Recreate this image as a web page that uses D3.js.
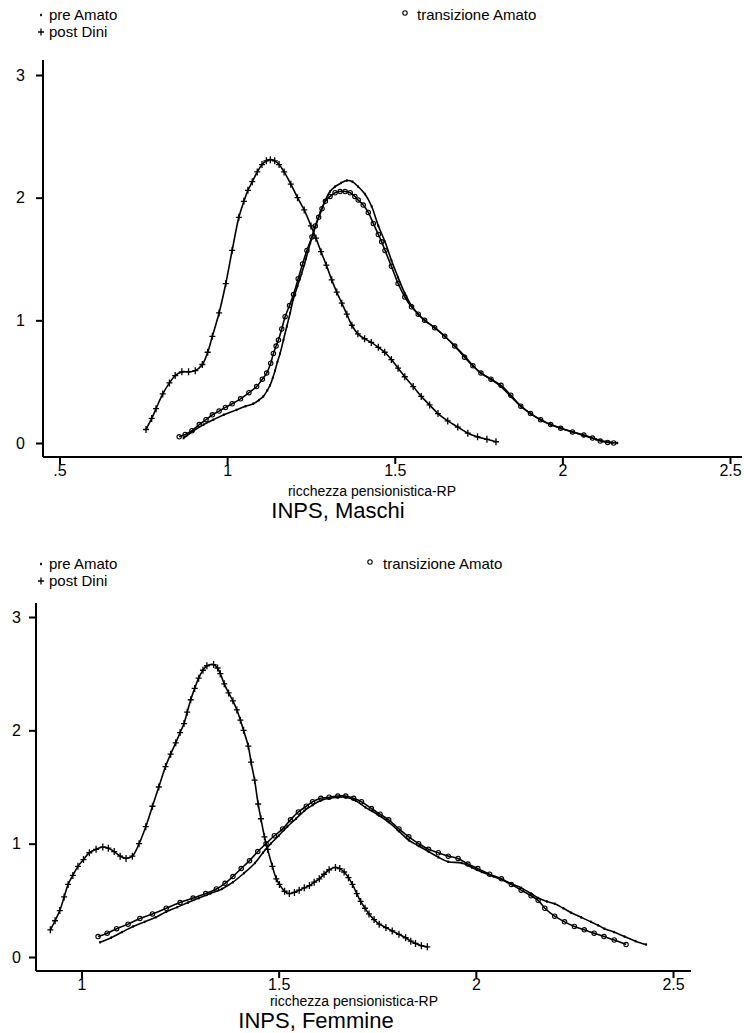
<!DOCTYPE html>
<html><head><meta charset="utf-8">
<script src="https://cdn.jsdelivr.net/npm/d3@7"></script>
<style>body{margin:0;background:#fff}svg{display:block}text{font-family:"Liberation Sans",Arial,sans-serif;fill:#000}</style>
</head><body><svg id="c" width="744" height="1033"></svg>
<script>
// ---------- DATA ----------
const seriesNames = ["pre Amato", "transizione Amato", "post Dini"];
const xTicksM = [0.5, 1, 1.5, 2, 2.5];
const xTickLabelsM = [".5", "1", "1.5", "2", "2.5"];
const xTicksF = [1, 1.5, 2, 2.5];
const xTickLabelsF = ["1", "1.5", "2", "2.5"];
const yTicks = [0, 1, 2, 3];
const xTitle = "ricchezza pensionistica-RP";
const titleM = "INPS, Maschi";
const titleF = "INPS, Femmine";

// Maschi
const preAmatoM_x = [0.870,0.900,0.930,0.959,0.990,1.028,1.055,1.078,1.095,1.108,1.120,1.128,1.136,1.143,1.150,1.158,1.168,1.178,1.188,1.197,1.210,1.222,1.235,1.248,1.263,1.278,1.293,1.307,1.322,1.340,1.357,1.374,1.391,1.411,1.431,1.451,1.471,1.490,1.510,1.530,1.550,1.570,1.589,1.619,1.649,1.679,1.708,1.733,1.757,1.787,1.817,1.846,1.876,1.905,1.935,1.965,1.995,2.030,2.064,2.100,2.130,2.164];
const preAmatoM_y = [0.04,0.10,0.15,0.19,0.23,0.27,0.30,0.32,0.35,0.38,0.43,0.47,0.53,0.59,0.66,0.73,0.84,0.95,1.06,1.17,1.28,1.38,1.50,1.63,1.76,1.88,1.98,2.05,2.09,2.12,2.14,2.13,2.09,2.03,1.93,1.77,1.64,1.49,1.35,1.22,1.12,1.05,1.00,0.94,0.87,0.79,0.71,0.63,0.57,0.52,0.46,0.38,0.30,0.24,0.19,0.15,0.12,0.09,0.06,0.03,0.01,0.0];
const transM_x = [0.857,0.875,0.895,0.917,0.937,0.956,0.976,0.995,1.015,1.040,1.065,1.088,1.105,1.118,1.130,1.138,1.146,1.153,1.163,1.173,1.186,1.198,1.212,1.225,1.238,1.253,1.263,1.273,1.283,1.293,1.307,1.322,1.337,1.352,1.367,1.381,1.391,1.406,1.421,1.436,1.451,1.461,1.471,1.490,1.510,1.530,1.550,1.570,1.589,1.619,1.649,1.679,1.708,1.733,1.757,1.787,1.817,1.846,1.876,1.905,1.935,1.965,1.995,2.030,2.064,2.090,2.113,2.135,2.153];
const transM_y = [0.05,0.07,0.10,0.15,0.19,0.23,0.26,0.29,0.32,0.36,0.41,0.46,0.52,0.57,0.65,0.73,0.79,0.84,0.93,1.03,1.12,1.21,1.34,1.46,1.57,1.68,1.77,1.84,1.91,1.97,2.01,2.04,2.05,2.05,2.04,2.01,1.98,1.94,1.88,1.79,1.70,1.64,1.57,1.44,1.30,1.19,1.11,1.05,1.00,0.94,0.87,0.79,0.70,0.63,0.57,0.52,0.47,0.39,0.30,0.24,0.19,0.15,0.12,0.09,0.065,0.04,0.016,0.005,0.0];
const postDiniM_x = [0.758,0.775,0.788,0.808,0.828,0.845,0.865,0.885,0.905,0.926,0.942,0.956,0.976,0.996,1.015,1.035,1.050,1.062,1.075,1.090,1.104,1.117,1.129,1.142,1.155,1.170,1.190,1.210,1.230,1.250,1.265,1.280,1.296,1.312,1.327,1.342,1.357,1.372,1.390,1.410,1.430,1.451,1.470,1.490,1.510,1.530,1.555,1.579,1.604,1.629,1.658,1.688,1.718,1.747,1.775,1.802];
const postDiniM_y = [0.11,0.20,0.28,0.40,0.49,0.55,0.58,0.58,0.59,0.64,0.74,0.87,1.06,1.30,1.57,1.84,1.97,2.06,2.13,2.21,2.27,2.30,2.31,2.30,2.27,2.21,2.11,2.00,1.90,1.77,1.67,1.56,1.45,1.33,1.23,1.14,1.05,0.96,0.89,0.85,0.82,0.78,0.74,0.68,0.61,0.54,0.46,0.38,0.31,0.24,0.18,0.13,0.08,0.05,0.03,0.01];

// Femmine
const preAmatoF_x = [1.047,1.075,1.103,1.131,1.160,1.188,1.215,1.243,1.270,1.298,1.327,1.356,1.384,1.412,1.440,1.460,1.480,1.500,1.522,1.544,1.565,1.586,1.607,1.628,1.650,1.670,1.695,1.720,1.750,1.779,1.805,1.830,1.855,1.880,1.905,1.930,1.964,1.990,2.015,2.045,2.080,2.115,2.140,2.158,2.180,2.200,2.222,2.242,2.267,2.292,2.310,2.326,2.350,2.377,2.405,2.432];
const preAmatoF_y = [0.13,0.17,0.22,0.27,0.31,0.35,0.40,0.44,0.48,0.52,0.56,0.60,0.66,0.74,0.83,0.92,1.00,1.07,1.15,1.22,1.29,1.34,1.38,1.40,1.41,1.41,1.38,1.32,1.26,1.19,1.11,1.03,0.98,0.93,0.88,0.84,0.83,0.79,0.75,0.71,0.66,0.61,0.56,0.52,0.49,0.47,0.43,0.39,0.35,0.31,0.28,0.25,0.22,0.18,0.14,0.11];
const transF_x = [1.042,1.065,1.089,1.118,1.148,1.180,1.215,1.250,1.283,1.315,1.342,1.364,1.384,1.405,1.426,1.447,1.468,1.489,1.510,1.530,1.550,1.570,1.586,1.607,1.628,1.650,1.670,1.690,1.710,1.735,1.757,1.779,1.805,1.830,1.855,1.880,1.905,1.930,1.955,1.980,2.005,2.035,2.065,2.090,2.115,2.140,2.158,2.175,2.200,2.225,2.250,2.275,2.300,2.325,2.351,2.381];
const transF_y = [0.18,0.21,0.25,0.29,0.34,0.38,0.43,0.48,0.52,0.56,0.60,0.65,0.71,0.78,0.85,0.93,1.00,1.07,1.13,1.21,1.28,1.33,1.37,1.40,1.41,1.42,1.42,1.40,1.37,1.31,1.26,1.21,1.13,1.06,1.00,0.95,0.92,0.89,0.87,0.82,0.78,0.73,0.69,0.64,0.59,0.54,0.50,0.43,0.36,0.31,0.27,0.24,0.21,0.18,0.15,0.11];
const postDiniF_x = [0.921,0.933,0.945,0.956,0.966,0.978,0.991,1.005,1.020,1.037,1.054,1.068,1.083,1.098,1.113,1.129,1.146,1.163,1.180,1.196,1.213,1.226,1.239,1.250,1.260,1.268,1.277,1.287,1.297,1.308,1.318,1.335,1.345,1.352,1.362,1.373,1.384,1.394,1.403,1.411,1.423,1.430,1.439,1.448,1.455,1.464,1.472,1.484,1.494,1.502,1.515,1.527,1.540,1.552,1.565,1.578,1.590,1.603,1.615,1.628,1.644,1.655,1.666,1.677,1.687,1.698,1.708,1.719,1.729,1.742,1.755,1.772,1.788,1.805,1.822,1.835,1.847,1.862,1.877];
const postDiniF_y = [0.24,0.32,0.41,0.53,0.64,0.72,0.80,0.86,0.92,0.95,0.97,0.96,0.93,0.89,0.87,0.89,1.00,1.15,1.33,1.50,1.68,1.79,1.89,1.98,2.06,2.16,2.27,2.37,2.46,2.53,2.57,2.58,2.55,2.50,2.41,2.33,2.26,2.18,2.09,2.00,1.86,1.72,1.56,1.35,1.22,1.06,0.95,0.80,0.69,0.64,0.58,0.56,0.57,0.59,0.61,0.63,0.66,0.69,0.73,0.77,0.79,0.78,0.75,0.70,0.64,0.56,0.49,0.43,0.38,0.33,0.29,0.26,0.23,0.20,0.17,0.14,0.12,0.10,0.09];

// ---------- DRAW ----------
const svg = d3.select("#c");
const zip = (xs, ys) => xs.map((x, i) => ({x, y: ys[i]}));

function marker(g, kind, x, y) {
  if (kind === "dot") {
    g.append("rect").attr("x", x - 0.9).attr("y", y - 1.2).attr("width", 1.8).attr("height", 2.4).attr("fill", "#000");
  } else if (kind === "circle") {
    g.append("circle").attr("cx", x).attr("cy", y).attr("r", 2.2).attr("fill", "none").attr("stroke", "#000").attr("stroke-width", 1.1);
  } else {
    g.append("path").attr("d", `M${x-3},${y}H${x+3}M${x},${y-3.5}V${y+3.5}`).attr("stroke", "#000").attr("stroke-width", 1.3).attr("fill", "none");
  }
}

function panel(cfg) {
  const g = svg.append("g");
  const x = d3.scaleLinear().domain(cfg.xDom).range(cfg.xRange);
  const y = d3.scaleLinear().domain([0, 3]).range([cfg.y0, cfg.y3]);

  const yAxis = d3.axisLeft(y).tickValues(yTicks).tickSize(7).tickPadding(cfg.yPad).tickFormat(d3.format("d"));
  const ga = g.append("g").attr("transform", `translate(${cfg.axX},0)`).call(yAxis);
  ga.select(".domain").attr("d", `M0,${cfg.axTop}V${cfg.axY}`).attr("stroke-width", 2);
  const xAxis = d3.axisBottom(x).tickValues(cfg.xTicks).tickSize(7).tickPadding(1)
    .tickFormat((d, i) => cfg.xLabels[i]);
  const gx = g.append("g").attr("transform", `translate(0,${cfg.axY})`).call(xAxis);
  gx.select(".domain").attr("d", `M${cfg.axX},0H${cfg.axRight}`).attr("stroke-width", 2);
  [ga, gx].forEach(a => {
    a.selectAll(".tick line").attr("stroke-width", 2);
    a.selectAll("text").style("font-size", "16px").style("font-family", '"Liberation Sans",Arial,sans-serif');
  });

  const line = d3.line().x(d => x(d.x)).y(d => y(d.y)).curve(d3.curveCatmullRom.alpha(0.5));
  cfg.series.forEach(s => {
    const data = zip(s.xs, s.ys);
    g.append("path").datum(data).attr("d", line).attr("fill", "none").attr("stroke", "#000").attr("stroke-width", 1.6);
    const mg = g.append("g");
    data.forEach(d => marker(mg, s.kind, x(d.x), y(d.y)));
  });

  const lg = g.append("g").style("font-size", "15px");
  const L = cfg.legend;
  marker(lg, "dot", L.mx1, L.y1 - 5); lg.append("text").attr("x", L.tx1).attr("y", L.y1).text(seriesNames[0]);
  marker(lg, "plus", L.mx1, L.y2 - 5); lg.append("text").attr("x", L.tx1).attr("y", L.y2).text(seriesNames[2]);
  marker(lg, "circle", L.mx2, L.y1 - 7); lg.append("text").attr("x", L.tx2).attr("y", L.y1).text(seriesNames[1]);

  g.append("text").attr("x", cfg.xtX).attr("y", cfg.xtY).attr("text-anchor", "middle").style("font-size", "14px").text(xTitle);
  g.append("text").attr("x", cfg.tX).attr("y", cfg.tY).attr("text-anchor", "middle").style("font-size", "22px").text(cfg.title);
}

panel({
  xDom: [0.5, 2.5], xRange: [59.5, 730], y0: 443, y3: 75,
  axX: 43, axTop: 60, axY: 457, axRight: 742, yPad: 11,
  xTicks: xTicksM, xLabels: xTickLabelsM,
  series: [
    {xs: preAmatoM_x, ys: preAmatoM_y, kind: "dot"},
    {xs: transM_x, ys: transM_y, kind: "circle"},
    {xs: postDiniM_x, ys: postDiniM_y, kind: "plus"}
  ],
  legend: {mx1: 41, tx1: 49, y1: 20, y2: 37, mx2: 405, tx2: 417},
  xtX: 372, xtY: 496, tX: 338, tY: 518, title: titleM
});

panel({
  xDom: [1, 2.5], xRange: [81.5, 673], y0: 957, y3: 617,
  axX: 36, axTop: 603, axY: 971, axRight: 691, yPad: 8,
  xTicks: xTicksF, xLabels: xTickLabelsF,
  series: [
    {xs: preAmatoF_x, ys: preAmatoF_y, kind: "dot"},
    {xs: transF_x, ys: transF_y, kind: "circle"},
    {xs: postDiniF_x, ys: postDiniF_y, kind: "plus"}
  ],
  legend: {mx1: 41, tx1: 49, y1: 569, y2: 586, mx2: 370, tx2: 383},
  xtX: 354, xtY: 1006, tX: 316, tY: 1028, title: titleF
});
</script></body></html>
